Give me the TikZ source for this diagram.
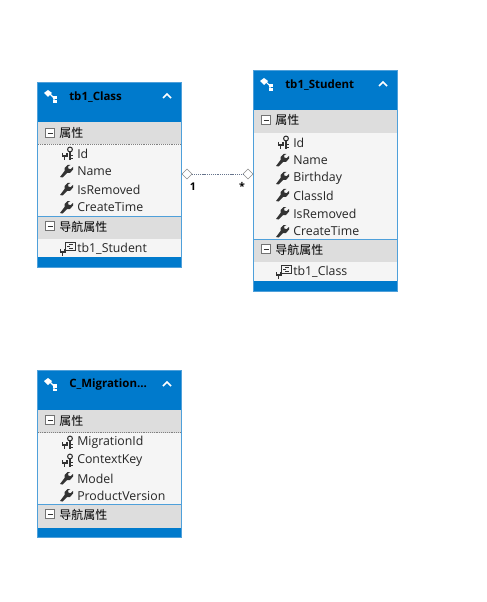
\documentclass[tikz,border=0pt]{standalone}
\usepackage{fontspec}
\setmainfont{Open Sans}
\newfontfamily\cjk{Noto Sans CJK SC}
\usetikzlibrary{shapes.geometric, positioning}
\definecolor{headblue}{HTML}{007ACC}
\definecolor{edgeblue}{HTML}{4FA0DA}
\definecolor{secgray}{HTML}{DDDDDD}
\definecolor{rowgray}{HTML}{F5F5F5}
\definecolor{icongray}{HTML}{333333}
\definecolor{linkgray}{HTML}{66748C}
\tikzset{
    entitybox/.style={draw=edgeblue, fill=headblue, minimum width=108.2pt, inner sep=0pt, anchor=north west},
    titletext/.style={anchor=west, inner sep=0pt, text=black, font=\fontsize{8.6}{10}\selectfont\bfseries},
    sectext/.style={anchor=west, inner sep=0pt, text=black, font=\fontsize{9}{10}\selectfont\cjk},
    rowtext/.style={anchor=west, inner sep=0pt, text=black!85, font=\fontsize{9.25}{10}\selectfont},
    reldiamond/.style={diamond, draw=black!45, fill=white, minimum width=7.5pt, minimum height=7.5pt, inner sep=0pt, line width=0.4pt},
    rellabel/.style={inner sep=0pt, text=black, font=\fontsize{8}{10}\selectfont\bfseries},
    keyicon/.pic={
        \draw[icongray, line width=0.8pt] (4,-3.5) circle (2.4);
        \draw[icongray, line width=1pt] (4,-1) -- (4,7) (4,2.5) -- (6.5,2.5) (4,5.5) -- (6.5,5.5);
        \draw[icongray, line width=1pt] (-3.5,0) -- (-3.5,3) -- (1,3) -- (1,0) (-1.2,3) -- (-1.2,7);
    },
    wrenchicon/.pic={
        \fill[icongray] (-7,6) -- (-4.5,6.5) -- (0,2) -- (3,2) -- (6,-1.5) -- (6,-4) -- (3.5,-1.8) -- (1.5,-2.4) -- (1,-4.5) -- (3.4,-6) -- (0.5,-6) -- (-2.5,-3) -- (-2.5,0) -- cycle;
    },
    navicon/.pic={
        \draw[icongray, line width=0.7pt] (-3,-7) rectangle (7,1);
        \draw[icongray, line width=0.7pt] (1,-5) -- (5,-5) (-1,-3) -- (2,-3) (1,-1) -- (5,-1);
        \fill[rowgray] (-8,-1) rectangle (-3.5,8);
        \draw[icongray, line width=1pt] (-7.5,0) -- (-7.5,3) -- (-3,3) -- (-3,0) (-5.2,3) -- (-5.2,7);
    },
    minusbox/.pic={
        \draw[black!55, fill=white, line width=0.5pt] (-4.5,-4.5) rectangle (4.5,4.5);
        \draw[black!80, line width=0.7pt] (-2.5,0) -- (2.5,0);
    },
    chevronicon/.pic={
        \draw[white, line width=1.3pt] (-4,2) -- (0,-2) -- (4,2);
    },
    entityicon/.pic={
        \fill[white] (-6,-2) -- (-2,-5) -- (2,-2) -- (-2,2) -- cycle;
        \draw[white, line width=0.8pt] (0,-1) -- (4,3) -- (4,7);
        \fill[white] (2.5,1) rectangle (7,4.5);
        \fill[white] (2.5,5.5) rectangle (6.5,8);
    }
}

\begin{document}
\begin{tikzpicture}[x=0.75pt, y=-0.75pt]
    \useasboundingbox (0,0) rectangle (486,602);

    % tb1_Class
    \node[entitybox, minimum height=138.4pt] (classbox) at (37,82) {};
    \fill[rowgray] (38,122) rectangle (181,257);
    \fill[secgray] (38,122) rectangle (181,144);
    \fill[secgray] (38,216) rectangle (181,239);
    \draw[edgeblue] (38,216) -- (181,216);
    \draw[black!50, densely dotted, line width=0.4pt] (38,144.5) -- (181,144.5);
    \pic at (50,95) {entityicon};
    \node[titletext] (classtitle) at (69,97) {tb1\_Class};
    \pic at (167,96) {chevronicon};
    \pic at (50,133) {minusbox};
    \node[sectext] (classprops) at (59,132.5) {属性};
    \pic at (50,226) {minusbox};
    \node[sectext] (classnavs) at (59,226.5) {导航属性};
    \pic at (66,153) {keyicon};
    \node[rowtext] (classid) at (77,153.5) {Id};
    \foreach \y/\name in {171/Name, 189/IsRemoved, 207/CreateTime} {
        \pic at (67,\y) {wrenchicon};
        \node[rowtext] (class\name) at (77,\y.5) {\name};
    }
    \pic at (68,249) {navicon};
    \node[rowtext] (classstudent) at (77,249) {tb1\_Student};

    % tb1_Student
    \node[entitybox, minimum height=165.4pt] (studentbox) at (253,70) {};
    \fill[rowgray] (254,110) rectangle (397,281);
    \fill[secgray] (254,110) rectangle (397,133);
    \fill[secgray] (254,239) rectangle (397,262);
    \draw[edgeblue] (254,239.5) -- (397,239.5);
    \pic at (266,83) {entityicon};
    \node[titletext] (studenttitle) at (285,85) {tb1\_Student};
    \pic at (383,84) {chevronicon};
    \pic at (266,120) {minusbox};
    \node[sectext] (studentprops) at (275,120) {属性};
    \pic at (266,249) {minusbox};
    \node[sectext] (studentnavs) at (275,249.5) {导航属性};
    \pic at (282,142) {keyicon};
    \node[rowtext] (studentid) at (293,142.5) {Id};
    \foreach \y/\name in {160/Name, 178/Birthday, 195/ClassId, 213/IsRemoved, 231/CreateTime} {
        \pic at (283,\y) {wrenchicon};
        \node[rowtext] (student\name) at (293,\y.5) {\name};
    }
    \pic at (284,272) {navicon};
    \node[rowtext] (studentclass) at (293,272) {tb1\_Class};

    % C_Migration
    \node[entitybox, minimum height=124.9pt] (migrationbox) at (37,370) {};
    \fill[rowgray] (38,410) rectangle (181,528);
    \fill[secgray] (38,410) rectangle (181,433);
    \fill[secgray] (38,504) rectangle (181,528);
    \draw[edgeblue] (38,504.5) -- (181,504.5);
    \draw[black!50, densely dotted, line width=0.4pt] (38,432.5) -- (181,432.5);
    \pic at (50,383) {entityicon};
    \node[titletext] (migrationtitle) at (69,385) {C\_Migration...};
    \pic at (167,384) {chevronicon};
    \pic at (50,420) {minusbox};
    \node[sectext] (migrationprops) at (59,420.5) {属性};
    \pic at (50,514) {minusbox};
    \node[sectext] (migrationnavs) at (59,514.5) {导航属性};
    \foreach \y/\name in {442/MigrationId, 460/ContextKey} {
        \pic at (66,\y) {keyicon};
        \node[rowtext] (migration\name) at (77,\y.5) {\name};
    }
    \foreach \y/\name in {478/Model, 495/ProductVersion} {
        \pic at (67,\y) {wrenchicon};
        \node[rowtext] (migration\name) at (77,\y.5) {\name};
    }

    % Relation between the two tables
    \node[reldiamond] (classend) at (187,174) {};
    \node[reldiamond] (studentend) at (248,174) {};
    \draw[linkgray, dash pattern=on 0.8pt off 0.6pt, line width=0.5pt] (classend) -- (studentend);
    \node[rellabel] (classmult) at (193,186.5) {1};
    \node[rellabel] (studentmult) at (242,186.5) {*};
\end{tikzpicture}
\end{document}
